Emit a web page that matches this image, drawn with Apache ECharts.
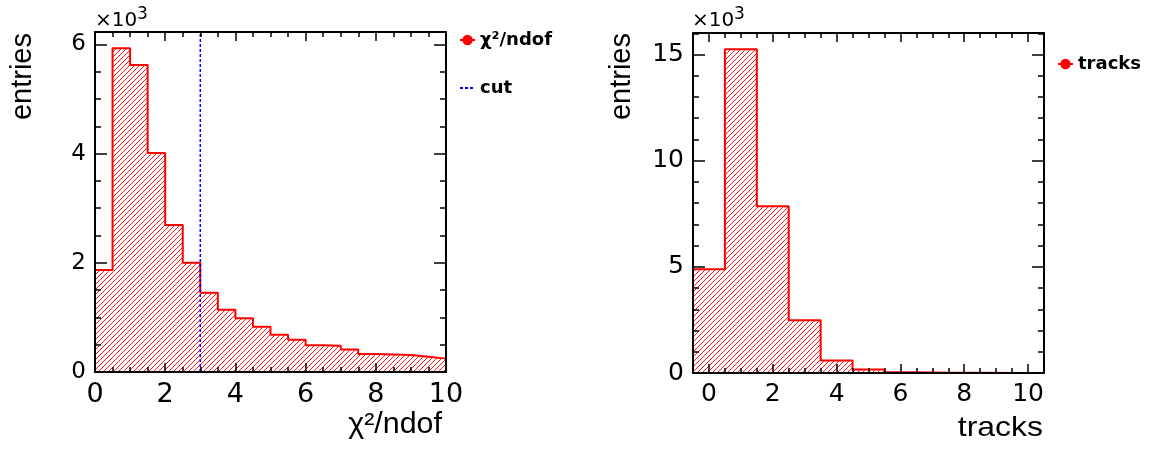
<!DOCTYPE html>
<html>
<head>
<meta charset="utf-8">
<script src="https://cdn.jsdelivr.net/npm/echarts@6/dist/echarts.min.js"></script>
<style>
  html, body { margin: 0; padding: 0; background: #ffffff; }
  #chart { width: 1150px; height: 450px; }
</style>
</head>
<body>
<div id="chart"></div>
<script>
// chi2/ndof distribution: 20 bins of width 0.5 on [0, 10], entries in units of 10^3
const chiEdges = [0, 0.5, 1, 1.5, 2, 2.5, 3, 3.5, 4, 4.5, 5, 5.5, 6, 6.5, 7, 7.5, 8, 8.5, 9, 9.5, 10];
const chiCounts = [1.87, 5.93, 5.62, 4.01, 2.69, 2.00, 1.45, 1.14, 0.985, 0.83,
                   0.68, 0.59, 0.49, 0.48, 0.41, 0.33, 0.32, 0.31, 0.28, 0.245];
const chiCut = 3;
const chiMajorX = [0, 2, 4, 6, 8, 10];
const chiMinorX = [0.5, 1, 1.5, 2.5, 3, 3.5, 4.5, 5, 5.5, 6.5, 7, 7.5, 8.5, 9, 9.5];
const chiMajorY = [0, 2, 4, 6];
const chiMinorY = [0.5, 1, 1.5, 2.5, 3, 3.5, 4.5, 5, 5.5];

// track multiplicity: unit bins centred on 0..10, entries in units of 10^3
const trackEdges = [-0.5, 0.5, 1.5, 2.5, 3.5, 4.5, 5.5, 6.5, 7.5, 8.5, 9.5, 10.5];
const trackCounts = [4.89, 15.25, 7.85, 2.49, 0.59, 0.165, 0.03, 0.012, 0.006, 0.003, 0.002];
const trackMajorX = [0, 2, 4, 6, 8, 10];
const trackMinorX = [0.5, 1, 1.5, 2.5, 3, 3.5, 4.5, 5, 5.5, 6.5, 7, 7.5, 8.5, 9, 9.5, 10.5];
const trackMajorY = [0, 5, 10, 15];
const trackMinorY = [1, 2, 3, 4, 6, 7, 8, 9, 11, 12, 13, 14, 16];

const SANS = "'Liberation Sans', Arial, Helvetica, sans-serif";
const WIDE = "'DejaVu Sans', Verdana, sans-serif";

// histogram outline as a stepped polyline through the bin edges
function stepPoints(edges, counts) {
  const pts = [[edges[0], 0]];
  counts.forEach((c, i) => pts.push([edges[i], c]));
  pts.push([edges[edges.length - 1], counts[counts.length - 1]]);
  pts.push([edges[edges.length - 1], 0]);
  return pts;
}

// diagonal hatch fill
function hatchPattern() {
  const s = 5;
  const c = document.createElement('canvas');
  c.width = s; c.height = s;
  const g = c.getContext('2d');
  g.strokeStyle = '#ff0000';
  g.lineWidth = 0.9;
  g.beginPath();
  for (let k = -1; k <= 1; k++) {
    g.moveTo(k * s, s);
    g.lineTo(k * s + s, 0);
  }
  g.stroke();
  return { image: c, repeat: 'repeat' };
}

// frame axes: labelled major ticks on one grid, minor ticks on an overlaid grid
function axisPair(kind, gMain, gMinor, min, max, major, minor, labelSize, majorLen, minorLen) {
  const isX = kind === 'x';
  const posA = isX ? 'bottom' : 'left';
  const posB = isX ? 'top' : 'right';
  const common = { type: 'value', min: min, max: max, z: 5, splitLine: { show: false } };
  const line = { show: true, onZero: false, lineStyle: { color: '#000', width: 2 } };
  const noLine = { show: false, onZero: false };
  const tick = (vals, len) => ({ show: true, inside: true, length: len, customValues: vals,
                                 lineStyle: { color: '#000', width: 1.5 } });
  return [
    Object.assign({}, common, {
      gridIndex: gMain, position: posA, axisLine: line, axisTick: tick(major, majorLen),
      axisLabel: { show: true, customValues: major, margin: 9, color: '#000',
                   fontSize: labelSize, fontFamily: WIDE }
    }),
    Object.assign({}, common, {
      gridIndex: gMain, position: posB, axisLine: line, axisTick: tick(major, majorLen),
      axisLabel: { show: false }
    }),
    Object.assign({}, common, {
      gridIndex: gMinor, position: posA, axisLine: noLine, axisTick: tick(minor, minorLen),
      axisLabel: { show: false }
    }),
    Object.assign({}, common, {
      gridIndex: gMinor, position: posB, axisLine: noLine, axisTick: tick(minor, minorLen),
      axisLabel: { show: false }
    })
  ];
}

const chiYMax = 1.05 * Math.max(...chiCounts);
const trackYMax = 1.05 * Math.max(...trackCounts);

const gridL = { left: 95, top: 32, width: 351, height: 340 };
const gridR = { left: 693, top: 33, width: 351, height: 340 };

const xAxes = [].concat(
  axisPair('x', 0, 1, chiEdges[0], chiEdges[chiEdges.length - 1], chiMajorX, chiMinorX, 27, 9, 5),
  axisPair('x', 2, 3, trackEdges[0], trackEdges[trackEdges.length - 1], trackMajorX, trackMinorX, 25, 9, 5)
);
const yAxes = [].concat(
  axisPair('y', 0, 1, 0, chiYMax, chiMajorY, chiMinorY, 23, 12, 6),
  axisPair('y', 2, 3, 0, trackYMax, trackMajorY, trackMinorY, 25, 12, 6)
);

const histStyle = {
  type: 'line',
  step: 'end',
  symbol: 'circle',
  showSymbol: false,
  color: '#ff0000',
  lineStyle: { color: '#ff0000', width: 2 },
  areaStyle: { color: hatchPattern(), opacity: 1 },
  silent: true,
  z: 2
};

const legendText = { fontFamily: WIDE, fontWeight: 'bold', fontSize: 18, color: '#000' };

function plainText(x, y, text, font, align, extra) {
  return Object.assign({ type: 'text', x: x, y: y,
    style: { text: text, font: font, fill: '#000', align: align, verticalAlign: 'middle' } }, extra || {});
}

const option = {
  animation: false,
  backgroundColor: '#ffffff',
  textStyle: { fontFamily: SANS },
  grid: [gridL, gridL, gridR, gridR],
  xAxis: xAxes,
  yAxis: yAxes,
  legend: [
    {
      data: ['χ²/ndof', { name: 'cut', itemStyle: { opacity: 0 } }],
      orient: 'vertical', left: 454, top: 26,
      itemWidth: 15, itemHeight: 13, itemGap: 30, selectedMode: false,
      textStyle: legendText
    },
    {
      data: ['tracks'], orient: 'vertical', left: 1052, top: 50,
      itemWidth: 15, itemHeight: 13, selectedMode: false,
      textStyle: legendText
    }
  ],
  series: [
    Object.assign({}, histStyle, { name: 'χ²/ndof', xAxisIndex: 0, yAxisIndex: 0,
                                   data: stepPoints(chiEdges, chiCounts) }),
    {
      name: 'cut', type: 'line', xAxisIndex: 0, yAxisIndex: 0, symbol: 'none',
      color: '#0000ff', silent: true, z: 3,
      lineStyle: { color: '#0000ff', width: 1.5, type: [3, 2] },
      data: [[chiCut, 0], [chiCut, chiYMax]]
    },
    Object.assign({}, histStyle, { name: 'tracks', xAxisIndex: 4, yAxisIndex: 4,
                                   data: stepPoints(trackEdges, trackCounts) })
  ],
  graphic: [
    // axis multipliers
    plainText(95, 21, '×10', '20px ' + WIDE, 'left'),
    plainText(137, 15, '3', '17px ' + WIDE, 'left'),
    plainText(692, 21, '×10', '20px ' + WIDE, 'left'),
    plainText(734, 15, '3', '17px ' + WIDE, 'left'),
    // y titles
    plainText(23, 33, 'entries', '29px ' + SANS, 'right', { rotation: Math.PI / 2 }),
    plainText(622, 33, 'entries', '29px ' + SANS, 'right', { rotation: Math.PI / 2 }),
    // x titles
    plainText(442, 425, 'χ²/ndof', '29px ' + SANS, 'right', { scaleX: 1.05 }),
    plainText(1043, 428, 'tracks', '28px ' + SANS, 'right', { scaleX: 1.14 })
  ]
};

const chart = echarts.init(document.getElementById('chart'), null, { renderer: 'canvas' });
chart.setOption(option);
</script>
</body>
</html>
